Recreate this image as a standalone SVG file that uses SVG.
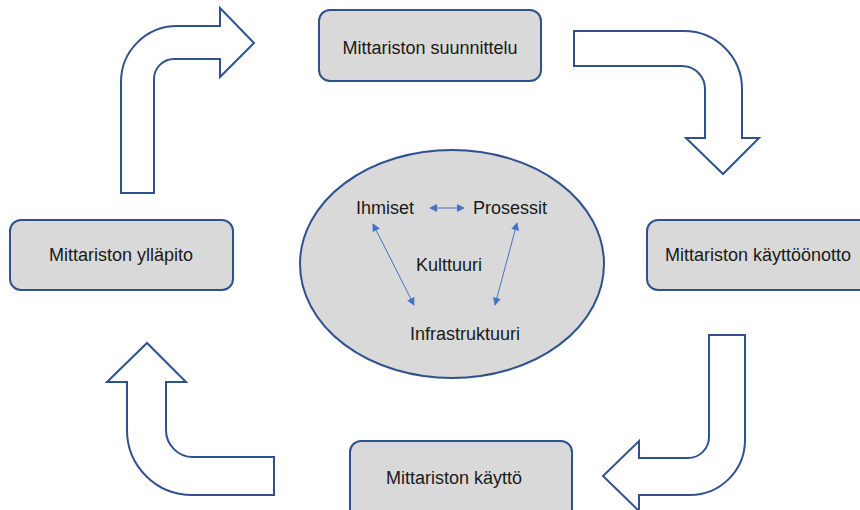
<svg xmlns="http://www.w3.org/2000/svg" width="860" height="510" viewBox="0 0 860 510">
  <defs>
    <style>
      .box { fill: #d9d9d9; stroke: #2f528f; stroke-width: 2; }
      .big { fill: #ffffff; stroke: #2f528f; stroke-width: 2; stroke-linejoin: miter; }
      .lbl { font-family: "Liberation Sans", Arial, sans-serif; font-size: 18px; fill: #1a1a1a; text-anchor: middle; }
      .small { stroke: #4472c4; stroke-width: 1; fill: none; }
    </style>
    <marker id="ah" viewBox="0 0 10 10" refX="9" refY="5" markerWidth="8" markerHeight="8" orient="auto-start-reverse" markerUnits="userSpaceOnUse">
      <path d="M0,0 L10,5 L0,10 Z" fill="#4472c4"/>
    </marker>
  </defs>
  <rect width="860" height="510" fill="#ffffff"/>

  <g id="connectors">
    <path id="arrow-top-left" class="big" d="M121,193 L121,82 A56,56 0 0 1 177,26 L220,26 L220,8 L254,43 L220,77 L220,59 L174,59 A20,20 0 0 0 154,79 L154,193 Z"/>
    <path id="arrow-top-right" class="big" d="M574,31 L684,31 A58,58 0 0 1 742,89 L742,138 L759,138 L723,174 L686,138 L705,138 L705,89 A23,23 0 0 0 682,66 L574,66 Z"/>
    <path id="arrow-bottom-right" class="big" d="M709,335 L745,335 L745,440 A55,55 0 0 1 690,495 L639,495 L639,511 L603,476 L639,441 L639,458 L688,458 A21,21 0 0 0 709,437 Z"/>
    <path id="arrow-bottom-left" class="big" d="M274,495 L274,457 L193,457 A27,27 0 0 1 166,430 L166,382 L186,382 L147,343 L107,382 L127,382 L127,430 A65,65 0 0 0 192,495 Z"/>
  </g>

  <g id="node-top">
    <rect class="box" x="319" y="10" width="222" height="71" rx="11"/>
    <text class="lbl" x="430" y="54">Mittariston suunnittelu</text>
  </g>
  <g id="node-right">
    <rect class="box" x="647" y="220" width="230" height="70" rx="11"/>
    <text class="lbl" x="758" y="261">Mittariston käyttöönotto</text>
  </g>
  <g id="node-bottom">
    <rect class="box" x="350" y="441" width="222" height="80" rx="11"/>
    <text class="lbl" x="454" y="484">Mittariston käyttö</text>
  </g>
  <g id="node-left">
    <rect class="box" x="10" y="220" width="223" height="70" rx="11"/>
    <text class="lbl" x="121" y="261">Mittariston ylläpito</text>
  </g>

  <g id="node-center">
    <ellipse class="box" cx="452" cy="264" rx="152" ry="114"/>
    <text class="lbl" x="385" y="214">Ihmiset</text>
    <text class="lbl" x="510" y="214">Prosessit</text>
    <text class="lbl" x="449" y="271">Kulttuuri</text>
    <text class="lbl" x="465" y="340">Infrastruktuuri</text>
    <g id="inner-connectors">
      <line class="small" x1="430" y1="208" x2="464" y2="208" marker-start="url(#ah)" marker-end="url(#ah)"/>
      <line class="small" x1="373" y1="224" x2="414" y2="305" marker-start="url(#ah)" marker-end="url(#ah)"/>
      <line class="small" x1="517" y1="223" x2="495" y2="305" marker-start="url(#ah)" marker-end="url(#ah)"/>
    </g>
  </g>
</svg>
